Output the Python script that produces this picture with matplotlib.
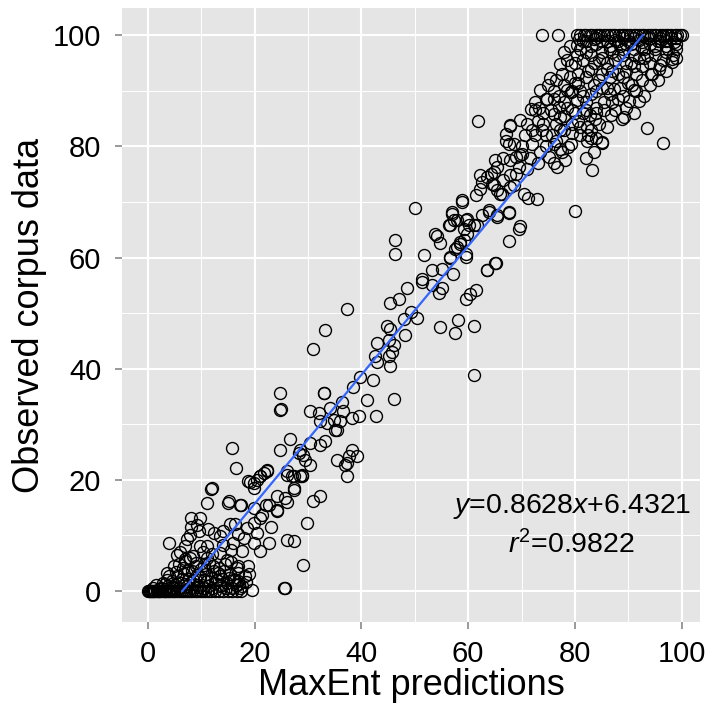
import numpy as np
import matplotlib
matplotlib.use('Agg')
import matplotlib.pyplot as plt
from matplotlib.ticker import MultipleLocator

plt.rcParams['font.family'] = ['Liberation Sans', 'DejaVu Sans']
plt.rcParams['mathtext.fontset'] = 'custom'
plt.rcParams['mathtext.rm'] = 'Liberation Sans'
plt.rcParams['mathtext.it'] = 'Liberation Sans:italic'

# regression shown on the chart
slope = 0.8628
intercept = 6.4321
r2 = 0.9822

# points with observed = 0
zero_pred = [0.0, 0.2, 0.4, 0.5, 0.7, 0.9, 1.1, 1.3, 1.6, 1.8, 2.0, 2.3, 2.6, 2.9,
             3.1, 3.4, 3.7, 4.0, 4.3, 4.6, 4.9, 5.3, 5.6, 6.0, 6.4, 6.8, 7.1, 7.5,
             7.9, 8.3, 8.8, 9.2, 9.7, 10.1, 10.6, 11.2, 11.8, 12.5, 13.3, 14.1,
             15.0, 15.8, 16.7, 17.5]

# points with observed = 100
top_pred = [73.8, 76.9, 80.4, 81.0, 81.7, 82.1, 82.8, 83.2, 83.9, 84.3, 84.8, 85.5,
            86.0, 86.6, 87.1, 87.5, 88.2, 88.8, 89.3, 89.7, 90.4, 91.0, 91.4, 92.1,
            92.6, 93.0, 93.7, 94.3, 94.8, 95.2, 95.9, 96.5, 97.0, 97.4, 98.1, 98.7,
            99.2, 99.7, 100.0]

low_pred = [2.5, 3.2, 3.8, 4.4, 5.0, 5.5, 6.2, 6.7, 7.3, 7.7, 8.2, 8.6, 9.1, 9.5, 9.9,
            10.4, 10.9, 11.3, 11.7, 12.2, 12.6, 13.1, 13.5, 13.9, 14.4, 14.8, 15.3,
            15.7, 16.2, 16.6, 17.1, 17.6, 18.1, 18.8, 19.4, 16.9, 16.0, 16.9, 12.3,
            13.5, 4.8, 6.6, 3.5, 25.4, 25.6,
            1.0, 1.5, 2.0, 2.8, 3.3, 4.0, 4.6, 5.2, 5.8, 6.4, 7.0, 7.5, 8.0, 8.4, 8.9,
            9.3, 9.8, 10.3, 10.7, 11.1, 11.5, 12.0, 12.9, 13.3, 13.7, 14.2, 14.6, 15.1,
            15.5, 16.4, 16.8, 17.3, 18.4, 19.0, 3.6, 5.7, 6.9, 7.8]
low_obs = [0.6, 1.2, 0.8, 1.8, 1.1, 2.6, 1.5, 3.0, 0.9, 2.2, 3.6, 1.3, 2.8, 0.7, 4.0,
           1.9, 3.1, 0.9, 2.4, 4.4, 1.5, 3.3, 0.8, 2.2, 4.9, 1.4, 3.0, 0.6, 2.0, 4.2,
           1.2, 0.8, 2.7, 4.4, 0.2, 4.4, 2.0, 1.7, 3.5, 2.7, 4.4, 4.1, 2.0, 0.5, 0.5,
           0.5, 1.0, 0.4, 1.5, 0.4, 2.7, 0.5, 3.4, 0.6, 2.2, 1.2, 3.8, 0.5, 2.0, 4.5,
           1.1, 2.5, 0.5, 3.8, 1.7, 5.0, 0.6, 2.0, 4.2, 1.0, 3.6, 0.5, 2.4,
           5.2, 1.0, 3.2, 0.5, 1.6, 3.0, 3.2, 4.8, 5.8, 6.0]

lowmid_pred = [11.0, 14.9, 17.4, 19.8, 22.1, 24.1, 26.0, 8.1, 9.8, 9.1, 11.3, 15.3, 16.3,
               18.5, 19.8, 21.0, 21.3, 3.9, 7.3, 7.9, 6.9, 9.8, 11.0, 13.5, 14.1, 16.0,
               17.6, 19.8, 21.0, 22.7, 26.0, 5.4, 8.5, 11.0, 13.5, 14.8, 27.4, 29.8,
               29.1, 11.8, 15.1, 17.3, 24.1, 25.7, 27.3, 31.0, 32.3, 22.6, 24.1, 11.9,
               9.5, 12.4, 10.2, 12.0, 7.0, 9.0, 10.5, 6.0, 15.5, 18.0, 20.5, 23.0, 14.0,
               16.8, 8.0]
lowmid_obs = [15.9, 15.8, 15.5, 14.9, 15.5, 14.3, 16.0, 13.1, 13.1, 11.9, 11.1, 12.1, 12.1,
              11.3, 12.2, 13.1, 13.7, 8.7, 9.3, 10.1, 8.0, 8.0, 8.0, 9.8, 8.3, 8.6,
              7.1, 8.6, 7.2, 8.7, 9.2, 6.5, 6.2, 5.9, 6.8, 5.6, 8.9, 12.3,
              4.7, 18.3, 16.1, 15.5, 17.0, 16.7, 18.2, 16.1, 17.0, 15.5, 14.6, 18.5,
              10.8, 10.5, 7.0, 6.6, 5.4, 5.0, 4.7, 7.0, 7.4, 9.6, 10.5, 11.5, 10.8,
              10.2, 11.5]

mid_pred = [24.9, 24.8, 24.8, 30.4, 15.7, 16.4, 26.6, 24.8, 18.8, 20.4, 21.0, 22.3, 26.0,
            27.3, 28.8, 30.4, 29.5, 28.2, 32.9, 32.1, 34.1, 36.3, 36.6, 38.5, 39.8,
            41.0, 32.3, 33.5, 35.1, 36.0, 38.2, 39.5, 30.4, 32.3, 33.2, 28.5, 29.1,
            35.4, 37.3, 38.2, 39.2, 37.6, 37.0, 37.3, 26.0, 26.9, 28.5, 28.8, 27.3,
            22.3, 21.7, 21.0, 19.8, 19.1, 19.8, 42.1, 42.8, 46.0, 33.0, 34.8, 35.4]
mid_obs = [32.7, 35.7, 32.6, 32.4, 25.8, 22.1, 27.3, 25.4, 19.7, 20.0, 20.7, 21.6, 21.6,
           20.6, 20.6, 22.7, 23.6, 24.8, 35.6, 32.1, 32.9, 34.0, 32.3, 36.7, 38.5,
           34.4, 30.5, 30.2, 29.0, 30.5, 31.1, 31.4, 26.6, 26.3, 26.9, 25.4, 24.5,
           23.6, 23.0, 25.4, 24.2, 24.2, 22.7, 20.6, 20.9, 20.6, 20.6, 20.9, 18.5,
           21.8, 21.2, 20.6, 19.4, 19.6, 18.6, 38.0, 31.4, 34.5, 35.6, 30.8, 29.0]

hmid_pred = [50.1, 46.2, 46.2, 51.7, 37.3, 33.1, 31.0, 45.4, 47.0, 48.5, 49.2, 47.9, 50.4,
             44.7, 45.4, 48.2, 42.9, 45.1, 46.0, 45.7, 42.6, 42.9, 45.1, 45.3, 61.0,
             54.8, 57.5, 58.0, 61.0, 59.6, 60.4, 61.4, 63.5, 65.2, 57.1, 54.5, 55.1,
             53.2, 51.3, 53.2, 55.1, 56.6, 57.6, 58.5, 59.5, 59.8, 59.2, 54.8, 53.8,
             54.1, 56.5, 57.0, 57.9, 59.8, 61.0, 62.6, 63.9, 65.4, 67.6, 67.6, 69.5,
             58.8, 51.3, 58.5, 57.9, 59.5, 56.6, 65.1, 63.5, 60.1, 61.6, 56.4, 59.2,
             57.3, 59.5, 65.4, 63.9, 57.0, 69.8]
hmid_obs = [69.0, 63.1, 60.7, 60.4, 50.8, 46.9, 43.6, 51.9, 52.6, 54.6, 50.2, 49.0, 49.2,
            47.7, 47.2, 46.0, 44.6, 45.1, 44.2, 43.0, 42.2, 41.2, 42.2, 40.5, 38.8,
            47.5, 46.5, 48.7, 47.7, 52.6, 53.5, 54.1, 57.8, 59.0, 57.0, 53.7, 54.6,
            55.0, 55.6, 57.7, 58.0, 60.1, 61.6, 62.5, 60.7, 64.3, 63.1, 62.7, 64.3,
            63.8, 65.9, 67.9, 66.7, 67.0, 65.8, 67.6, 68.2, 67.6, 68.0, 63.0, 65.2,
            70.0, 56.2, 62.8, 61.9, 60.1, 60.0, 59.0, 57.7, 65.8, 65.8, 65.8, 65.1,
            66.7, 66.7, 67.3, 68.5, 68.2, 65.6]

high_pred = [61.8, 67.9, 67.0, 67.6, 67.9, 65.4, 64.8, 62.3, 64.5, 65.4, 66.3, 67.9, 62.3,
             61.4, 58.8, 67.6, 62.6, 64.8, 66.0, 68.6, 70.4, 72.9, 71.2, 64.2, 67.9,
             69.5, 68.9, 70.1, 69.8, 71.5, 73.5, 70.7, 72.6, 73.8, 75.7, 67.0, 67.9,
             69.8, 71.0, 71.7, 72.5, 73.2, 73.5, 74.8, 76.0, 75.4, 77.0, 77.3, 76.0,
             77.3, 77.3, 79.2, 78.2, 75.1, 76.7, 77.6, 78.8, 76.0, 83.2, 80.0, 85.1,
             93.5, 96.5, 89.2, 92.0, 90.1, 88.9, 86.7, 82.9, 82.3, 82.5, 82.3, 83.8,
             84.5, 80.4, 78.5, 79.2, 80.0, 80.5, 77.3, 78.5, 80.4, 79.2, 80.4, 81.5,
             82.0, 90.7, 91.0, 87.3, 88.0, 94.2, 94.5, 95.7, 96.0, 98.2, 98.4, 98.2,
             97.5, 85.1, 83.0, 84.0, 85.5, 86.0, 84.5, 82.5, 83.5, 85.0, 86.5, 88.0,
             89.5, 91.0, 92.5, 94.0, 96.0, 87.0, 89.0, 92.5, 81.0, 82.0, 81.5, 79.5,
             78.0, 80.5, 84.0, 86.0, 88.5, 90.5, 93.0, 95.0, 97.0, 99.0, 91.5, 83.0,
             85.0, 87.5, 89.0, 74.6, 75.0, 76.5, 77.5, 78.0, 79.0, 76.0, 74.0, 72.0,
             70.0, 68.5, 66.5, 65.0, 63.5, 66.5, 69.0, 71.0, 73.0, 74.5, 76.5, 78.0,
             79.5, 81.0, 83.5, 82.0, 84.0, 86.0, 87.5, 89.5, 91.0, 93.0, 94.0, 95.5,
             97.0, 99.0, 96.5]
high_obs = [84.5, 83.8, 81.0, 80.5, 77.5, 76.3, 75.4, 74.8, 73.3, 72.1, 71.5, 72.7, 72.4,
            71.2, 70.3, 68.2, 73.6, 73.0, 71.5, 73.0, 71.5, 70.5, 70.8, 75.1, 74.8,
            76.3, 78.1, 78.7, 78.4, 78.0, 79.0, 82.0, 82.0, 82.9, 82.0, 82.2, 83.6,
            84.8, 84.1, 86.8, 86.6, 86.9, 90.1, 88.6, 88.6, 92.4, 87.1, 85.3, 85.9,
            82.9, 79.6, 80.5, 77.5, 78.1, 76.3, 79.0, 79.9, 77.0, 75.8, 68.4, 80.7,
            83.3, 80.6, 85.3, 88.1, 88.1, 85.0, 85.6, 85.6, 83.5, 82.0, 81.0, 85.0,
            84.0, 88.3, 90.1, 89.8, 91.5, 93.0, 94.9, 95.5, 96.4, 94.6, 98.2, 99.0,
            97.0, 91.0, 90.1, 90.4, 88.5, 93.1, 93.1, 94.0, 94.6, 95.2, 96.4, 95.8,
            97.5, 80.8, 83.0, 87.0, 88.0, 90.5, 92.0, 93.5, 95.0, 96.0, 97.5, 96.5,
            95.0, 96.5, 97.8, 98.5, 99.0, 93.5, 92.5, 94.5, 90.0, 88.0, 86.0, 86.5,
            88.0, 84.5, 90.0, 94.0, 98.0, 98.5, 96.0, 96.5, 98.0, 98.5, 93.0, 98.0,
            99.0, 99.2, 99.5, 88.6, 91.0, 92.0, 93.0, 97.0, 98.0, 90.0, 84.0, 80.5,
            80.0, 80.5, 78.0, 77.5, 74.5, 74.0, 75.0, 76.0, 77.0, 80.0, 81.0, 83.0,
            84.0, 82.0, 79.0, 78.0, 81.5, 83.5, 86.5, 87.0, 86.0, 89.0, 91.0, 92.0,
            93.5, 96.0, 95.5]

# dense block near the upper right corner
dense_pred = [81.0, 82.0, 83.0, 84.0, 85.0, 86.0, 87.0, 88.0, 89.0, 90.0, 91.0, 92.0,
              93.0, 94.0, 95.0, 96.0, 97.0, 98.0, 99.0,
              80.0, 81.5, 83.0, 84.5, 86.0, 87.5, 89.0, 90.5, 92.0, 93.5, 95.0, 97.0, 99.0,
              79.0, 80.5, 82.0, 83.5, 85.0, 86.5, 88.0, 89.5, 91.0, 92.5, 94.0,
              78.0, 79.5, 81.5, 83.0, 85.0, 86.5, 88.5, 90.0, 91.5,
              77.0, 78.5, 80.0, 82.0, 84.0, 85.5, 87.0, 89.0,
              76.5, 78.0, 79.5, 81.0, 83.0, 76.0, 74.5, 73.0, 72.0, 75.5, 74.0, 72.5,
              84.0, 86.5, 89.5, 92.5, 95.5, 98.5, 80.8, 83.5, 91.0, 93.5, 96.5]
dense_obs = [97.5, 99.0, 96.5, 98.5, 97.0, 99.0, 97.0, 99.0, 97.5, 99.0, 97.5, 99.2,
             97.5, 99.5, 98.0, 99.5, 99.0, 99.5, 99.5,
             95.0, 95.5, 94.0, 95.5, 95.0, 95.5, 96.5, 95.0, 96.0, 96.5, 97.5, 97.0, 97.5,
             92.5, 91.5, 92.5, 91.0, 93.0, 92.5, 93.0, 93.5, 94.5, 92.0, 95.0,
             91.0, 90.0, 89.0, 89.5, 90.5, 89.5, 90.5, 91.5, 90.0,
             89.0, 87.0, 86.0, 86.5, 86.0, 86.5, 88.0, 89.0,
             84.0, 85.5, 82.5, 83.5, 81.5, 80.5, 82.0, 84.5, 83.0, 86.5, 86.0, 88.0,
             99.5, 98.0, 98.5, 98.8, 99.0, 98.8, 99.3, 99.3, 99.6, 99.7, 99.8]

pred = np.concatenate([zero_pred, top_pred, low_pred, lowmid_pred, mid_pred, hmid_pred,
                       high_pred, dense_pred])
obs = np.concatenate([np.zeros(len(zero_pred)), np.full(len(top_pred), 100.0), low_obs,
                      lowmid_obs, mid_obs, hmid_obs, high_obs, dense_obs])

fig = plt.figure(figsize=(7.06, 7.04), dpi=100)
ax = fig.add_axes([0.1728, 0.1165, 0.819, 0.872])
ax.set_facecolor('#E5E5E5')

ax.plot(pred, obs, 'o', mfc='none', mec='black', ms=8.6, mew=1.0, zorder=3)

yy = np.array([0, 100])
ax.plot(slope * yy + intercept, yy, color='#3366FF', lw=1.6, zorder=4)

ax.text(79.4, 15.1, r'$y$=%.4f$x$+%.4f' % (slope, intercept), ha='center', va='center',
        fontsize=20.5, zorder=5)
ax.text(79.4, 8.4, r'$r^2$=%.4f' % r2, ha='center', va='center', fontsize=20.5, zorder=5)

ax.set_xlim(-4.9, 103.5)
ax.set_ylim(-5.6, 104.9)
ax.xaxis.set_major_locator(MultipleLocator(20))
ax.yaxis.set_major_locator(MultipleLocator(20))
ax.xaxis.set_minor_locator(MultipleLocator(10))
ax.yaxis.set_minor_locator(MultipleLocator(10))
ax.grid(which='major', color='white', lw=1.5, zorder=0)
ax.grid(which='minor', color='white', lw=0.7, zorder=0)
ax.set_axisbelow(True)
for s in ax.spines.values():
    s.set_visible(False)
ax.tick_params(which='major', direction='out', length=5, width=1.1, color='#7F7F7F',
               labelsize=21, labelcolor='black')
ax.tick_params(axis='x', which='major', pad=8)
ax.tick_params(axis='y', which='major', pad=10)
ax.tick_params(which='minor', length=0)

ax.set_xlabel('MaxEnt predictions', fontsize=26, labelpad=0)
ax.set_ylabel('Observed corpus data', fontsize=26, labelpad=4)

fig.savefig('out.png', dpi=100)
